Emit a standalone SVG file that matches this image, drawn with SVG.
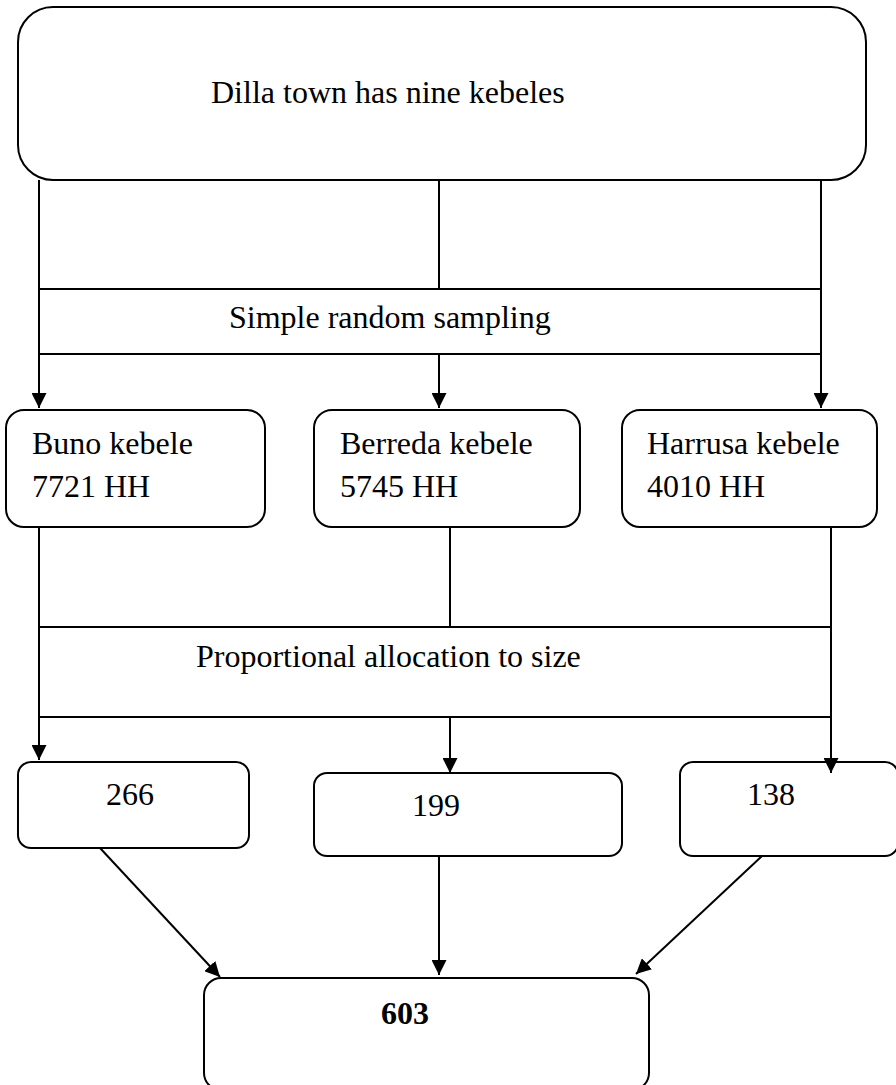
<svg xmlns="http://www.w3.org/2000/svg" width="896" height="1085" viewBox="0 0 896 1085">
<defs>
<style>
.box{fill:#fff;stroke:#000;stroke-width:2}
.ln{stroke:#000;stroke-width:2;fill:none}
.t{font-family:"Liberation Serif","Times New Roman",serif;font-size:32px;fill:#000}
.b{font-weight:bold}
</style>
<marker id="ah" markerUnits="userSpaceOnUse" markerWidth="15" markerHeight="15" refX="15" refY="7.5" orient="auto" viewBox="0 0 15 15">
<path d="M0,0 L15,7.5 L0,15 z" fill="#000"/>
</marker>
</defs>
<rect width="896" height="1085" fill="#fff"/>
<g id="town">
<rect class="box" x="18" y="7" width="848" height="173" rx="35"/>
<text class="t" x="211" y="103">Dilla town has nine kebeles</text>
</g>
<g id="sampling">
<line class="ln" x1="39" y1="289" x2="821" y2="289"/>
<line class="ln" x1="39" y1="354" x2="821" y2="354"/>
<text class="t" x="229" y="328">Simple random sampling</text>
</g>
<g id="buno">
<rect class="box" x="6" y="410" width="259" height="117" rx="18"/>
<text class="t" x="32" y="454">Buno kebele</text>
<text class="t" x="32" y="497">7721 HH</text>
</g>
<g id="berreda">
<rect class="box" x="314" y="410" width="266" height="117" rx="18"/>
<text class="t" x="340" y="454">Berreda kebele</text>
<text class="t" x="340" y="497">5745 HH</text>
</g>
<g id="harrusa">
<rect class="box" x="622" y="410" width="255" height="117" rx="18"/>
<text class="t" x="647" y="454">Harrusa kebele</text>
<text class="t" x="647" y="497">4010 HH</text>
</g>
<g id="allocation">
<line class="ln" x1="39" y1="627" x2="831" y2="627"/>
<line class="ln" x1="39" y1="717" x2="831" y2="717"/>
<text class="t" x="196" y="667">Proportional allocation to size</text>
</g>
<g id="n266">
<rect class="box" x="18" y="762" width="231" height="86" rx="13"/>
<text class="t" x="106" y="805">266</text>
</g>
<g id="n199">
<rect class="box" x="314" y="773" width="308" height="83" rx="13"/>
<text class="t" x="412" y="816">199</text>
</g>
<g id="n138">
<rect class="box" x="680" y="762" width="218" height="94" rx="13"/>
<text class="t" x="747" y="805">138</text>
</g>
<g id="total">
<rect class="box" x="204" y="978" width="445" height="112" rx="17"/>
<text class="t b" x="381" y="1024">603</text>
</g>
<g id="connectors">
<line class="ln" x1="39" y1="180" x2="39" y2="408" marker-end="url(#ah)"/>
<line class="ln" x1="439" y1="180" x2="439" y2="289"/>
<line class="ln" x1="821" y1="180" x2="821" y2="408" marker-end="url(#ah)"/>
<line class="ln" x1="439" y1="354" x2="439" y2="408" marker-end="url(#ah)"/>
<line class="ln" x1="39" y1="527" x2="39" y2="760" marker-end="url(#ah)"/>
<line class="ln" x1="450" y1="527" x2="450" y2="627"/>
<line class="ln" x1="831" y1="527" x2="831" y2="773" marker-end="url(#ah)"/>
<line class="ln" x1="450" y1="717" x2="450" y2="773" marker-end="url(#ah)"/>
<line class="ln" x1="100" y1="848" x2="220" y2="977" marker-end="url(#ah)"/>
<line class="ln" x1="439" y1="856" x2="439" y2="975" marker-end="url(#ah)"/>
<line class="ln" x1="762" y1="856" x2="636" y2="974" marker-end="url(#ah)"/>
</g>
</svg>
